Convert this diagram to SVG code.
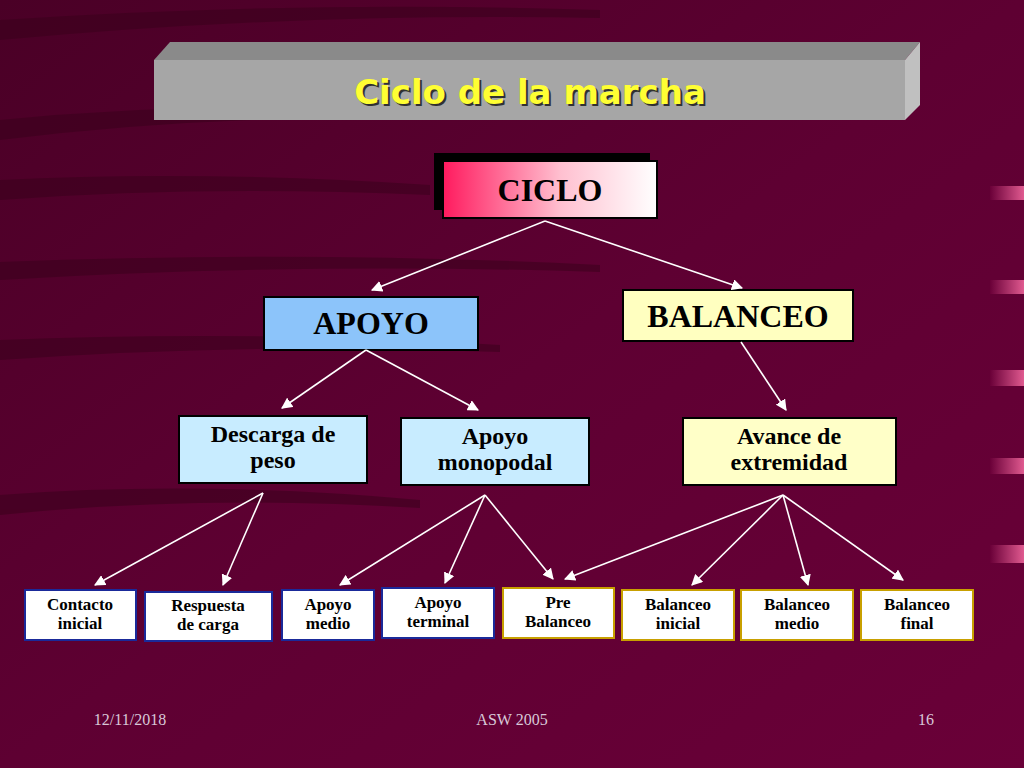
<svg xmlns="http://www.w3.org/2000/svg" width="1024" height="768" viewBox="0 0 1024 768">
<defs>
<linearGradient id="pk" x1="0" x2="1"><stop offset="0" stop-color="#ff1a5e"/><stop offset="0.55" stop-color="#ffc0d0"/><stop offset="1" stop-color="#ffffff"/></linearGradient>
<linearGradient id="bg" x1="0" y1="0" x2="1" y2="1"><stop offset="0" stop-color="#4a0026"/><stop offset="0.5" stop-color="#5e0032"/><stop offset="1" stop-color="#6a0038"/></linearGradient>
<linearGradient id="tab" x1="0" x2="1"><stop offset="0" stop-color="#6a0038"/><stop offset="1" stop-color="#e05a90"/></linearGradient>
<marker id="ar" viewBox="0 0 10 10" refX="9" refY="5" markerWidth="7" markerHeight="7" orient="auto"><path d="M0,0L10,5L0,10z" fill="#fff"/></marker>
</defs>
<style>
.t{font-family:"Liberation Serif",serif;font-weight:bold;text-anchor:middle;fill:#000}
.b{font-size:32px}.m{font-size:24px}.s{font-size:17px}
.blu{stroke:#1a2a9a;stroke-width:2}
.yel{stroke:#c8a000;stroke-width:2}
.c line{stroke:#fff;stroke-width:1.6;marker-end:url(#ar)}
.f{font-family:"Liberation Serif",serif;font-size:16px;fill:#d8c8d8;text-anchor:middle}
</style>
<rect width="1024" height="768" fill="url(#bg)"/>
<g fill="#3a001c" opacity="0.55">
<path d="M0,20 Q300,0 600,10 L600,18 Q300,12 0,40z"/>
<path d="M0,120 Q200,100 420,110 L420,118 Q200,115 0,140z"/>
<path d="M0,262 Q300,250 600,265 L600,272 Q300,262 0,280z"/>
<path d="M0,340 Q250,330 500,345 L500,352 Q250,342 0,360z"/>
<path d="M0,495 Q200,480 420,500 L420,508 Q200,494 0,515z"/>
<path d="M0,180 Q200,170 430,185 L430,195 Q200,185 0,200z"/>
</g>
<g fill="url(#tab)"><rect x="990" y="186" width="34" height="14"/><rect x="990" y="280" width="34" height="14"/><rect x="990" y="370" width="34" height="16"/><rect x="990" y="458" width="34" height="16"/><rect x="990" y="545" width="34" height="18"/></g>
<g id="title">
<polygon points="154,60 170,42 920,42 905,60" fill="#8a8a8a"/>
<polygon points="905,60 920,42 920,105 905,120" fill="#c0c0c0"/>
<rect x="154" y="60" width="751" height="60" fill="#a6a6a6"/>
<text x="532" y="106" font-family="'DejaVu Sans',sans-serif" font-weight="bold" font-size="34" text-anchor="middle" fill="#000" opacity="0.7">Ciclo de la marcha</text>
<text x="530" y="104" font-family="'DejaVu Sans',sans-serif" font-weight="bold" font-size="34" text-anchor="middle" fill="#ffff33">Ciclo de la marcha</text>
</g>
<g id="ciclo"><rect x="434" y="153" width="216" height="57" fill="#000"/><rect x="443" y="161" width="214" height="57" fill="url(#pk)" stroke="#000" stroke-width="2"/><text class="t b" x="550" y="201">CICLO</text></g>
<g id="apoyo"><rect x="264" y="297" width="214" height="53" fill="#8cc4fa" stroke="#000" stroke-width="2"/><text class="t b" x="371" y="334">APOYO</text></g>
<g id="balanceo"><rect x="623" y="290" width="230" height="51" fill="#ffffc0" stroke="#000" stroke-width="2"/><text class="t b" x="738" y="327">BALANCEO</text></g>
<g id="descarga"><rect x="179" y="416" width="188" height="67" fill="#c8ecff" stroke="#000" stroke-width="2"/><text class="t m" x="273" y="442">Descarga de</text><text class="t m" x="273" y="468">peso</text></g>
<g id="monopodal"><rect x="401" y="418" width="188" height="67" fill="#c8ecff" stroke="#000" stroke-width="2"/><text class="t m" x="495" y="444">Apoyo</text><text class="t m" x="495" y="470">monopodal</text></g>
<g id="avance"><rect x="683" y="418" width="213" height="67" fill="#ffffc8" stroke="#000" stroke-width="2"/><text class="t m" x="789" y="444">Avance de</text><text class="t m" x="789" y="470">extremidad</text></g>
<g id="contacto"><rect class="blu" x="25" y="590" width="111" height="50" fill="#fff"/><text class="t s" x="80" y="610">Contacto</text><text class="t s" x="80" y="629">inicial</text></g>
<g id="respuesta"><rect class="blu" x="145" y="592" width="127" height="49" fill="#fff"/><text class="t s" x="208" y="611">Respuesta</text><text class="t s" x="208" y="630">de carga</text></g>
<g id="medio"><rect class="blu" x="282" y="590" width="92" height="50" fill="#fff"/><text class="t s" x="328" y="610">Apoyo</text><text class="t s" x="328" y="629">medio</text></g>
<g id="terminal"><rect class="blu" x="382" y="588" width="112" height="50" fill="#fff"/><text class="t s" x="438" y="608">Apoyo</text><text class="t s" x="438" y="627">terminal</text></g>
<g id="pre"><rect class="yel" x="503" y="588" width="111" height="50" fill="#fff"/><text class="t s" x="558" y="608">Pre</text><text class="t s" x="558" y="627">Balanceo</text></g>
<g id="binicial"><rect class="yel" x="622" y="590" width="112" height="50" fill="#fff"/><text class="t s" x="678" y="610">Balanceo</text><text class="t s" x="678" y="629">inicial</text></g>
<g id="bmedio"><rect class="yel" x="741" y="590" width="112" height="50" fill="#fff"/><text class="t s" x="797" y="610">Balanceo</text><text class="t s" x="797" y="629">medio</text></g>
<g id="bfinal"><rect class="yel" x="861" y="590" width="112" height="50" fill="#fff"/><text class="t s" x="917" y="610">Balanceo</text><text class="t s" x="917" y="629">final</text></g>
<g class="c" id="connectors">
<line x1="545" y1="221" x2="372" y2="290"/><line x1="545" y1="221" x2="742" y2="288"/>
<line x1="366" y1="350" x2="282" y2="408"/><line x1="366" y1="350" x2="478" y2="410"/>
<line x1="741" y1="342" x2="786" y2="410"/>
<line x1="263" y1="493" x2="95" y2="585"/><line x1="263" y1="493" x2="223" y2="585"/>
<line x1="485" y1="495" x2="340" y2="585"/><line x1="485" y1="495" x2="445" y2="583"/><line x1="485" y1="495" x2="553" y2="579"/>
<line x1="783" y1="495" x2="565" y2="579"/><line x1="783" y1="495" x2="692" y2="585"/><line x1="783" y1="495" x2="808" y2="585"/><line x1="783" y1="495" x2="903" y2="580"/>
</g>
<text class="f" x="130" y="725">12/11/2018</text><text class="f" x="512" y="725">ASW 2005</text><text class="f" x="926" y="725">16</text>
</svg>
